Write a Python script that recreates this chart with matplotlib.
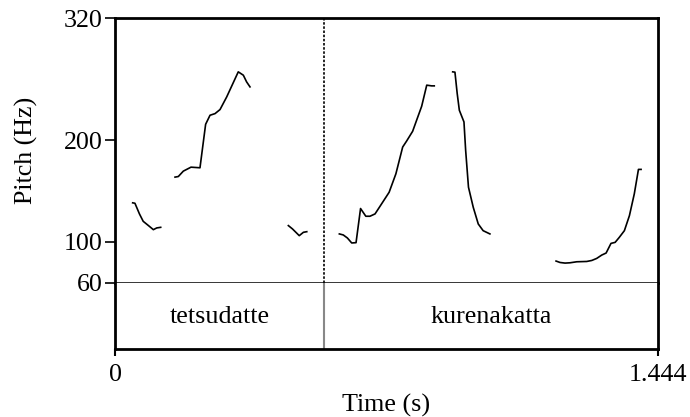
import matplotlib
matplotlib.use("Agg")
import matplotlib.pyplot as plt

plt.rcParams['font.family'] = ['Liberation Serif', 'DejaVu Serif']

# Pitch contour segments (time s, pitch Hz)
seg1_t = [0.047, 0.053, 0.065, 0.075, 0.089, 0.102, 0.111, 0.1215]
seg1_f = [138.4, 138.0, 127.5, 120.2, 116.0, 112.0, 113.7, 114.3]

seg2_t = [0.1596, 0.1684, 0.1817, 0.2021, 0.226, 0.241, 0.2527, 0.266, 0.2793, 0.297, 0.3278, 0.3413, 0.350, 0.359]
seg2_f = [163.7, 164.3, 169.6, 173.5, 172.9, 215.7, 224.6, 226.2, 230.2, 242.6, 267.3, 264.0, 257.4, 252.5]

seg3_t = [0.461, 0.472, 0.490, 0.501, 0.510]
seg3_f = [116.0, 112.7, 106.1, 109.4, 110.0]

seg4_t = [0.5966, 0.607, 0.618, 0.6295, 0.641, 0.653, 0.667, 0.678, 0.6915, 0.703, 0.729, 0.747, 0.765, 0.7755, 0.7915, 0.802, 0.8155, 0.829, 0.842, 0.849]
seg4_f = [107.8, 106.8, 103.8, 98.9, 99.2, 132.8, 125.2, 125.2, 127.5, 134.0, 148.8, 167.0, 193.3, 199.2, 208.8, 219.6, 233.4, 254.2, 253.5, 253.5]

seg5_t = [0.898, 0.904, 0.910, 0.9157, 0.928, 0.9325, 0.940, 0.9527, 0.966, 0.979, 0.997]
seg5_f = [267.3, 267.0, 246.0, 229.5, 218.0, 190.0, 153.8, 134.0, 117.6, 111.0, 107.8]

seg6_t = [1.1729, 1.1835, 1.1968, 1.210, 1.228, 1.2545, 1.268, 1.281, 1.2944, 1.306, 1.319, 1.330, 1.341, 1.3546, 1.368, 1.381, 1.392, 1.399]
seg6_f = [81.1, 79.7, 79.1, 79.4, 80.4, 80.7, 81.7, 83.7, 87.0, 89.0, 98.5, 99.5, 104.4, 111.0, 125.8, 147.3, 171.3, 171.3]

segments = [(seg1_t, seg1_f), (seg2_t, seg2_f), (seg3_t, seg3_f),
            (seg4_t, seg4_f), (seg5_t, seg5_f), (seg6_t, seg6_f)]

boundary = 0.555
words = ["tetsudatte", "kurenakatta"]
word_bounds = [(0.0, boundary), (boundary, 1.444)]
t_max = 1.444
y_ticks = [60, 100, 200, 320]
x_ticks = [0, 1.444]
x_ticklabels = ["0", "1.444"]

FS = 18.7
W, H = 690, 417
fig = plt.figure(figsize=(W / 100, H / 100), dpi=100)

L, R = 115, 658
top, mid, bot = 18.3, 282.5, 348.5

ax = fig.add_axes([L / W, 1 - mid / H, (R - L) / W, (mid - top) / H])
axt = fig.add_axes([L / W, 1 - bot / H, (R - L) / W, (bot - mid) / H])

for t, f in segments:
    ax.plot(t, f, color='black', lw=1.2)
ax.axvline(boundary, color='black', lw=1.2, ls=(0, (1.5, 1)))

ax.set_xlim(0, t_max)
ax.set_ylim(60, 320)
ax.set_yticks(y_ticks)
ax.set_yticklabels([str(v) for v in y_ticks], fontsize=FS)
ax.set_xticks([])
ax.tick_params(axis='y', direction='out', length=7.2, width=1.2, pad=1.5)
for s in ['left', 'top', 'right']:
    ax.spines[s].set_linewidth(2)
ax.spines['bottom'].set_linewidth(1.1)
ax.set_ylabel("Pitch (Hz)", fontsize=FS, labelpad=19)

axt.set_xlim(0, t_max)
axt.set_ylim(0, 1)
axt.axvline(boundary, color='#888888', lw=1.5)
for w, (a, b) in zip(words, word_bounds):
    axt.text((a + b) / 2, 0.47, w, ha='center', va='center', fontsize=FS)
axt.set_yticks([])
axt.set_xticks(x_ticks)
axt.set_xticklabels(x_ticklabels, fontsize=FS)
axt.tick_params(axis='x', direction='out', length=5, width=1.5, pad=6)
axt.spines['top'].set_visible(False)
for s in ['left', 'bottom', 'right']:
    axt.spines[s].set_linewidth(2)
axt.set_xlabel("Time (s)", fontsize=FS, labelpad=6)

fig.savefig("out.png", dpi=100)
